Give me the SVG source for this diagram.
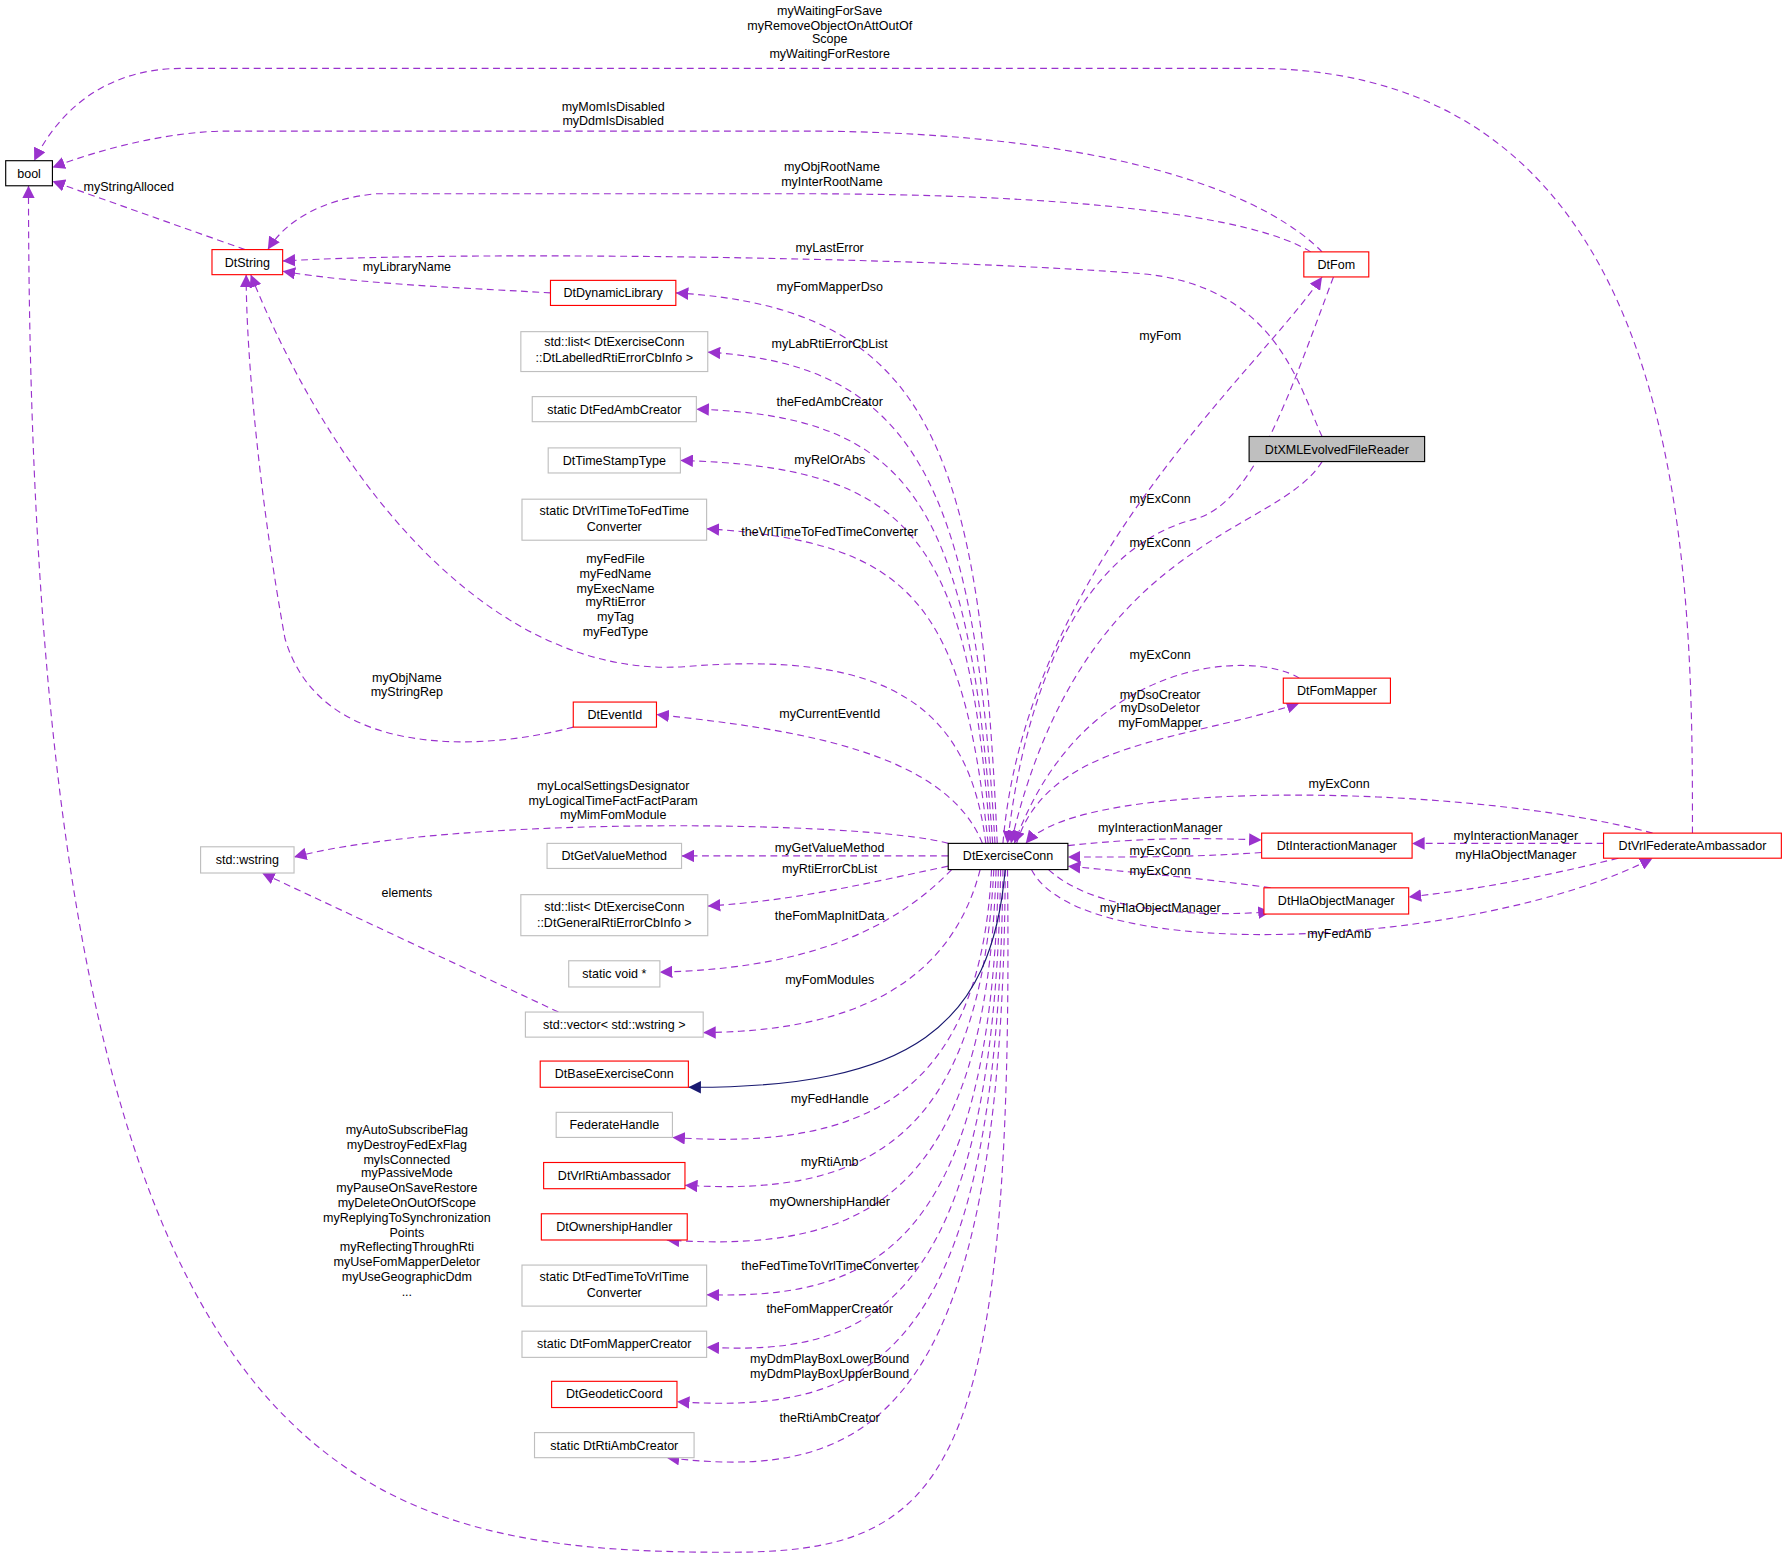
<svg xmlns="http://www.w3.org/2000/svg" width="1787" height="1559" viewBox="0 0 1787 1559">
<defs>
<marker id="a" viewBox="0 0 10 10" refX="10" refY="5" markerWidth="11" markerHeight="11" markerUnits="userSpaceOnUse" orient="auto"><path d="M0,0L10,5L0,10z" fill="#9a32cd"/></marker>
<marker id="n" viewBox="0 0 10 10" refX="10" refY="5" markerWidth="11" markerHeight="11" markerUnits="userSpaceOnUse" orient="auto"><path d="M0,0L10,5L0,10z" fill="#191970"/></marker>
<style>
text{font-family:"Liberation Sans",Arial,sans-serif;font-size:11px;fill:#000;text-anchor:middle}
.e path{fill:none;stroke:#9a32cd;stroke-dasharray:6,4;marker-end:url(#a)}
.r{fill:#fff;stroke:#ff0000}
.g{fill:#fff;stroke:#bfbfbf}
.b{fill:#fff;stroke:#000}
</style>
</defs>
<rect width="1787" height="1559" fill="#fff"/>
<g transform="scale(1.1397)">
<g class="e" id="edges">
<path d="M1485,731 C1485,500 1485,60 1100,60 L160,60 C90,60 50,100 30,141"/>
<path d="M1160,221 C1120,180 1000,115 700,115 L200,115 C150,115 90,130 46,147"/>
<path d="M1150,221 C1100,190 950,170 700,170 L330,170 C280,175 250,195 235,219"/>
<path d="M1160,383 C1140,340 1120,250 1000,240 C800,225 400,220 248,229"/>
<path d="M215,219 L46,159"/>
<path d="M483,257 C420,253 320,250 248,238"/>
<path d="M875,740 C860,400 820,270 593,257"/>
<path d="M873,740 C855,420 800,320 621,309"/>
<path d="M871,740 C850,440 800,365 611,359"/>
<path d="M869,740 C850,470 800,410 597,404"/>
<path d="M867,740 C845,530 800,475 620,464"/>
<path d="M865,740 C850,620 780,570 600,585 C440,595 300,440 220,241"/>
<path d="M503,638 C420,660 280,665 250,560 C230,450 216,320 216,241"/>
<path d="M862,740 C830,660 700,640 576,627"/>
<path d="M832,740 C760,720 400,715 258,752"/>
<path d="M832,751 L598,751"/>
<path d="M832,760 C760,775 700,790 621,795"/>
<path d="M835,763 C780,820 700,850 579,853"/>
<path d="M490,888 L230,766"/>
<path d="M860,763 C830,880 720,905 617,906"/>
<path d="M870,763 C860,960 760,1010 590,998"/>
<path d="M872,763 C860,1000 760,1050 601,1040"/>
<path d="M874,763 C865,1050 760,1100 585,1088"/>
<path d="M876,763 C870,1100 760,1140 620,1136"/>
<path d="M878,763 C872,1150 760,1190 620,1182"/>
<path d="M880,763 C876,1200 760,1240 594,1230"/>
<path d="M882,763 C880,1250 760,1300 585,1279"/>
<path d="M884,763 C890,1300 830,1362 640,1362 C300,1362 25,1300 25,163"/>
<path d="M880,740 C900,500 1100,330 1160,243"/>
<path d="M1170,243 C1130,350 1100,440 1050,455 C950,480 900,600 884,740"/>
<path d="M1160,405 C1120,470 950,470 887,740"/>
<path d="M1140,595 C1100,570 950,575 890,740"/>
<path d="M892,740 C920,650 1040,650 1140,617"/>
<path d="M1450,731 C1300,690 950,680 900,740"/>
<path d="M937,742 C1000,735 1050,735 1107,737"/>
<path d="M1107,748 C1050,752 1000,752 937,752"/>
<path d="M1115,779 C1050,770 990,765 937,760"/>
<path d="M920,763 C960,800 1050,805 1115,800"/>
<path d="M905,763 C950,850 1300,830 1450,753"/>
<path d="M1407,740 L1239,740"/>
<path d="M1420,753 C1350,770 1300,780 1236,787"/>
<path d="M882,763 C870,900 800,955 604,954" style="stroke:#191970;stroke-dasharray:none;marker-end:url(#n)"/>
</g>
<g id="labels">
<text x="728" y="13">myWaitingForSave</text><text x="728" y="26">myRemoveObjectOnAttOutOf</text><text x="728" y="38">Scope</text><text x="728" y="51">myWaitingForRestore</text>
<text x="538" y="97">myMomIsDisabled</text><text x="538" y="110">myDdmIsDisabled</text>
<text x="730" y="150">myObjRootName</text><text x="730" y="163">myInterRootName</text>
<text x="728" y="221">myLastError</text>
<text x="113" y="168">myStringAlloced</text>
<text x="357" y="238">myLibraryName</text>
<text x="728" y="255">myFomMapperDso</text>
<text x="728" y="305">myLabRtiErrorCbList</text>
<text x="728" y="356">theFedAmbCreator</text>
<text x="728" y="407">myRelOrAbs</text>
<text x="728" y="470">theVrlTimeToFedTimeConverter</text>
<text x="540" y="494">myFedFile</text><text x="540" y="507">myFedName</text><text x="540" y="520">myExecName</text><text x="540" y="532">myRtiError</text><text x="540" y="545">myTag</text><text x="540" y="558">myFedType</text>
<text x="357" y="598">myObjName</text><text x="357" y="611">myStringRep</text>
<text x="728" y="630">myCurrentEventId</text>
<text x="538" y="693">myLocalSettingsDesignator</text><text x="538" y="706">myLogicalTimeFactFactParam</text><text x="538" y="719">myMimFomModule</text>
<text x="728" y="748">myGetValueMethod</text>
<text x="728" y="766">myRtiErrorCbList</text>
<text x="357" y="787">elements</text>
<text x="728" y="807">theFomMapInitData</text>
<text x="728" y="863">myFomModules</text>
<text x="728" y="968">myFedHandle</text>
<text x="728" y="1023">myRtiAmb</text>
<text x="728" y="1058">myOwnershipHandler</text>
<text x="728" y="1114">theFedTimeToVrlTimeConverter</text>
<text x="728" y="1152">theFomMapperCreator</text>
<text x="728" y="1196">myDdmPlayBoxLowerBound</text><text x="728" y="1209">myDdmPlayBoxUpperBound</text>
<text x="728" y="1248">theRtiAmbCreator</text>
<text x="357" y="995">myAutoSubscribeFlag</text><text x="357" y="1008">myDestroyFedExFlag</text><text x="357" y="1021">myIsConnected</text><text x="357" y="1033">myPassiveMode</text><text x="357" y="1046">myPauseOnSaveRestore</text><text x="357" y="1059">myDeleteOnOutOfScope</text><text x="357" y="1072">myReplyingToSynchronization</text><text x="357" y="1085">Points</text><text x="357" y="1098">myReflectingThroughRti</text><text x="357" y="1111">myUseFomMapperDeletor</text><text x="357" y="1124">myUseGeographicDdm</text><text x="357" y="1137">...</text>
<text x="1018" y="298">myFom</text>
<text x="1018" y="441">myExConn</text>
<text x="1018" y="480">myExConn</text>
<text x="1018" y="578">myExConn</text>
<text x="1018" y="613">myDsoCreator</text><text x="1018" y="625">myDsoDeletor</text><text x="1018" y="638">myFomMapper</text>
<text x="1175" y="691">myExConn</text>
<text x="1018" y="730">myInteractionManager</text>
<text x="1018" y="750">myExConn</text>
<text x="1018" y="768">myExConn</text>
<text x="1018" y="800">myHlaObjectManager</text>
<text x="1175" y="823">myFedAmb</text>
<text x="1330" y="737">myInteractionManager</text>
<text x="1330" y="754">myHlaObjectManager</text>
</g>
<g id="bool"><rect class="b" x="5" y="141" width="41" height="22"/><text x="25.5" y="156">bool</text></g>
<g id="DtString"><rect class="r" x="186" y="219" width="62" height="22"/><text x="217" y="234">DtString</text></g>
<g id="DtDynamicLibrary"><rect class="r" x="483" y="246" width="110" height="22"/><text x="538" y="261">DtDynamicLibrary</text></g>
<g id="listLabelled"><rect class="g" x="457" y="291" width="164" height="35"/><text x="539" y="304">std::list&lt; DtExerciseConn</text><text x="539" y="318">::DtLabelledRtiErrorCbInfo &gt;</text></g>
<g id="FedAmbCreator"><rect class="g" x="467" y="348" width="144" height="22"/><text x="539" y="363">static DtFedAmbCreator</text></g>
<g id="DtTimeStampType"><rect class="g" x="481" y="393" width="116" height="22"/><text x="539" y="408">DtTimeStampType</text></g>
<g id="VrlConv"><rect class="g" x="458" y="438" width="162" height="36"/><text x="539" y="452">static DtVrlTimeToFedTime</text><text x="539" y="466">Converter</text></g>
<g id="DtEventId"><rect class="r" x="503" y="616" width="73" height="22"/><text x="539.5" y="631">DtEventId</text></g>
<g id="wstring"><rect class="g" x="176" y="743" width="82" height="23"/><text x="217" y="758">std::wstring</text></g>
<g id="DtGetValueMethod"><rect class="g" x="480" y="740" width="118" height="22"/><text x="539" y="755">DtGetValueMethod</text></g>
<g id="listGeneral"><rect class="g" x="457" y="785" width="164" height="36"/><text x="539" y="799">std::list&lt; DtExerciseConn</text><text x="539" y="813">::DtGeneralRtiErrorCbInfo &gt;</text></g>
<g id="voidp"><rect class="g" x="499" y="843" width="80" height="23"/><text x="539" y="858">static void *</text></g>
<g id="vector"><rect class="g" x="461" y="888" width="156" height="22"/><text x="539" y="903">std::vector&lt; std::wstring &gt;</text></g>
<g id="DtBaseExerciseConn"><rect class="r" x="474" y="931" width="130" height="23"/><text x="539" y="946">DtBaseExerciseConn</text></g>
<g id="FederateHandle"><rect class="g" x="488" y="976" width="102" height="22"/><text x="539" y="991">FederateHandle</text></g>
<g id="DtVrlRtiAmbassador"><rect class="r" x="477" y="1020" width="124" height="23"/><text x="539" y="1035">DtVrlRtiAmbassador</text></g>
<g id="DtOwnershipHandler"><rect class="r" x="475" y="1065" width="128" height="23"/><text x="539" y="1080">DtOwnershipHandler</text></g>
<g id="FedConv"><rect class="g" x="458" y="1110" width="162" height="36"/><text x="539" y="1124">static DtFedTimeToVrlTime</text><text x="539" y="1138">Converter</text></g>
<g id="FomMapperCreator"><rect class="g" x="458" y="1168" width="162" height="23"/><text x="539" y="1183">static DtFomMapperCreator</text></g>
<g id="DtGeodeticCoord"><rect class="r" x="484" y="1212" width="110" height="23"/><text x="539" y="1227">DtGeodeticCoord</text></g>
<g id="RtiAmbCreator"><rect class="g" x="469" y="1257" width="140" height="22"/><text x="539" y="1272">static DtRtiAmbCreator</text></g>
<g id="DtExerciseConn"><rect class="b" x="832" y="740" width="105" height="23"/><text x="884.5" y="755">DtExerciseConn</text></g>
<g id="DtFom"><rect class="r" x="1144" y="221" width="57" height="22"/><text x="1172.5" y="236">DtFom</text></g>
<g id="DtXMLEvolvedFileReader"><rect x="1096" y="383" width="154" height="22" fill="#bfbfbf" stroke="#000"/><text x="1173" y="398">DtXMLEvolvedFileReader</text></g>
<g id="DtFomMapper"><rect class="r" x="1126" y="595" width="94" height="22"/><text x="1173" y="610">DtFomMapper</text></g>
<g id="DtInteractionManager"><rect class="r" x="1107" y="731" width="132" height="22"/><text x="1173" y="746">DtInteractionManager</text></g>
<g id="DtHlaObjectManager"><rect class="r" x="1109" y="779" width="127" height="23"/><text x="1172.5" y="794">DtHlaObjectManager</text></g>
<g id="DtVrlFederateAmbassador"><rect class="r" x="1407" y="731" width="156" height="22"/><text x="1485" y="746">DtVrlFederateAmbassador</text></g>
</g>
</svg>
